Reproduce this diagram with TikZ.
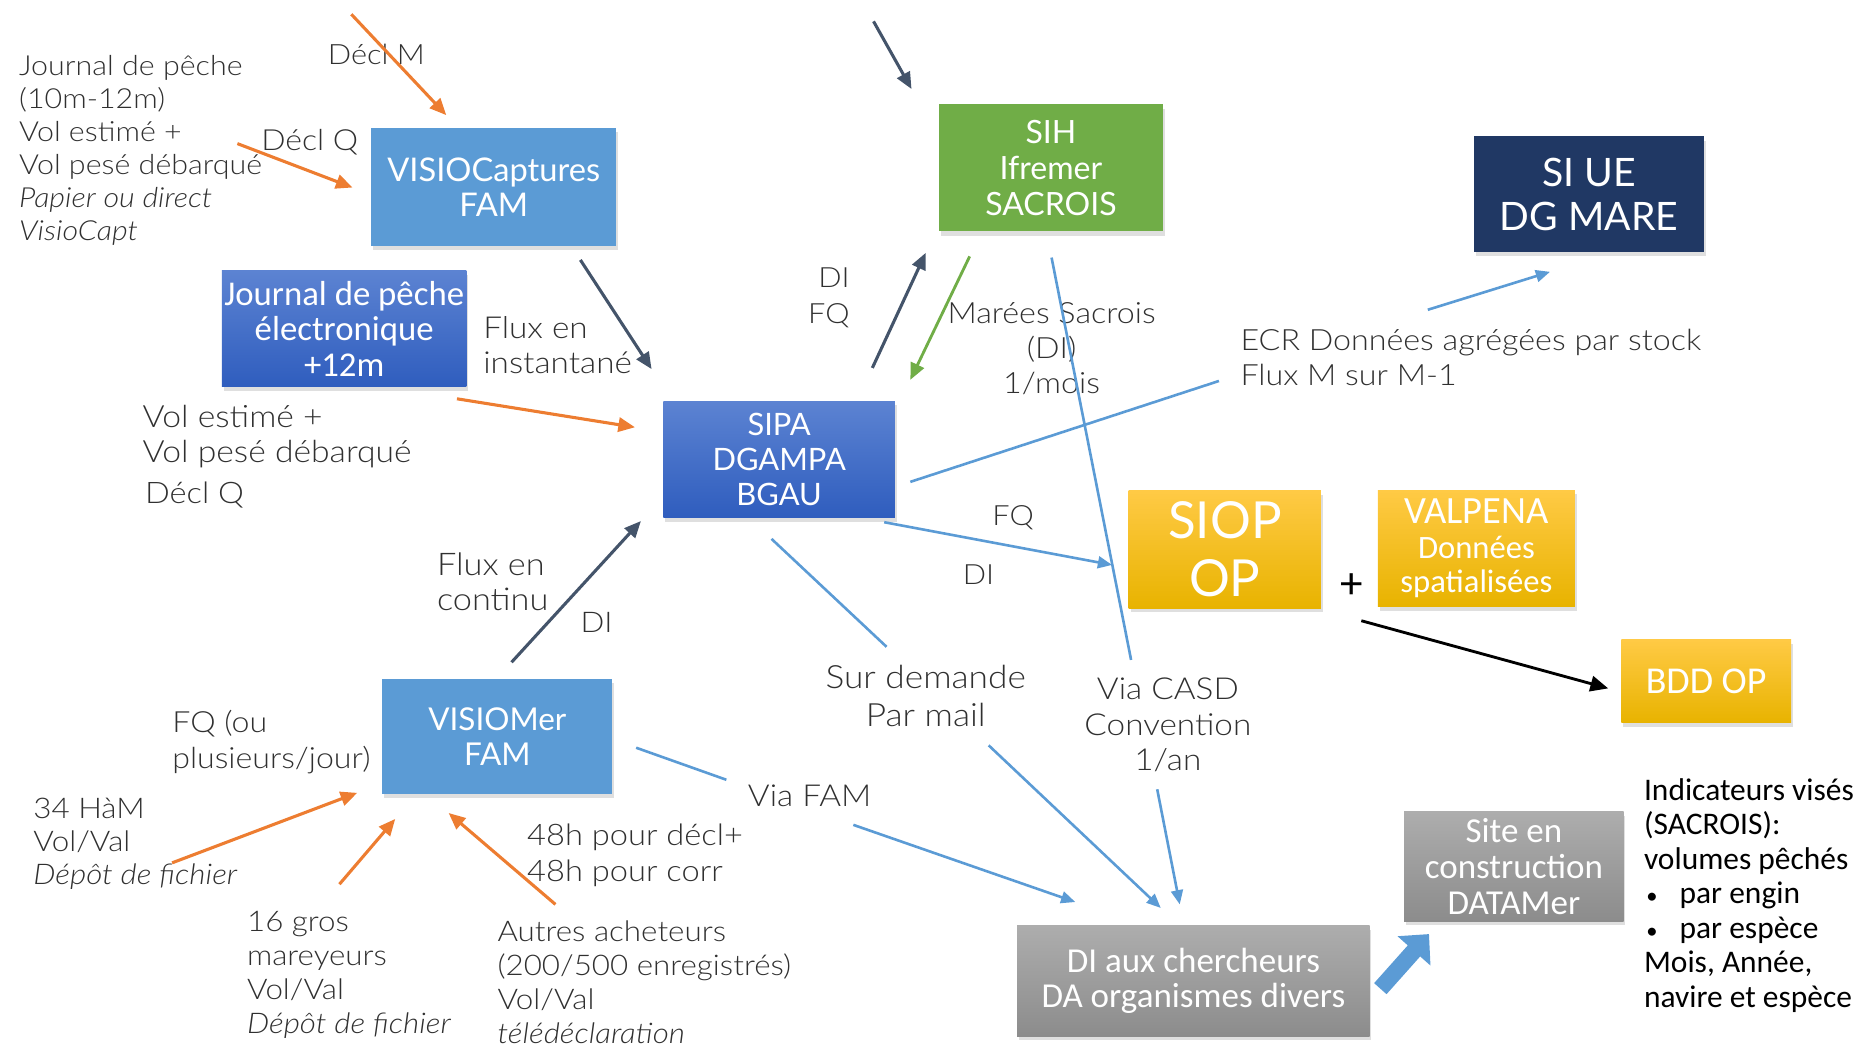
\documentclass[tikz,border=0pt]{standalone}
\usepackage{fontspec}
\setmainfont{Carlito}
\newfontfamily\thinf{Lato Light}[FakeStretch=1.1]
\newfontfamily\latof{Lato}
\usetikzlibrary{arrows.meta,shadows}
\definecolor{medblue}{HTML}{5B9BD5}
\definecolor{royaltop}{HTML}{5C83D2}
\definecolor{royalbot}{HTML}{2F5DBE}
\definecolor{sihgreen}{HTML}{70AD47}
\definecolor{navy}{HTML}{203864}
\definecolor{goldtop}{HTML}{FFCA45}
\definecolor{goldbot}{HTML}{E8B300}
\definecolor{graytop}{HTML}{ADADAD}
\definecolor{graybot}{HTML}{8C8C8C}
\definecolor{slate}{HTML}{44546A}
\definecolor{orng}{HTML}{ED7D31}
\definecolor{annot}{HTML}{303030}
\newcommand{\tf}[2]{\thinf\fontsize{#1}{#2}\selectfont}
\newcommand{\bul}{\makebox[30pt][l]{\hspace{2pt}{\fontsize{19}{19}\selectfont •}}}
\begin{document}
\begin{tikzpicture}[x=1pt,y=-1pt,
  box/.style={rectangle, inner sep=0pt, align=center, text=white,
    drop shadow={opacity=0.25, shadow xshift=1.5pt, shadow yshift=-3.5pt}},
  royal/.style={box, top color=royaltop, bottom color=royalbot},
  gold/.style={box, top color=goldtop, bottom color=goldbot},
  grayb/.style={box, top color=graytop, bottom color=graybot},
  ann/.style={font=\tf{24.5}{28}, text=annot, inner sep=0pt, align=left, anchor=base west},
  oarr/.style={orng, line width=2.6pt, -{Triangle[length=14pt,width=12pt]}},
  darr/.style={slate, line width=2.6pt, -{Triangle[length=14pt,width=12pt]}},
  garr/.style={sihgreen, line width=2.4pt, -{Triangle[length=14pt,width=12pt]}},
  bline/.style={medblue, line width=2.2pt},
  barr/.style={bline, -{Triangle[length=12pt,width=10pt]}},
]
\useasboundingbox (0,0) rectangle (1568,880);

% ---------- boxes ----------
\node[box, fill=medblue, minimum width=206pt, minimum height=99pt,
  font=\latof\fontsize{27.5}{29.5}\selectfont] (vcap) at (416,157.5) {VISIOCaptures\\FAM};
\node[royal, minimum width=206pt, minimum height=98pt,
  font=\fontsize{29.3}{30}\selectfont] (jpe) at (290,277) {Journal de pêche\\électronique\\+12m};
\node[royal, minimum width=195pt, minimum height=98pt,
  font=\latof\fontsize{26}{29.5}\selectfont] (sipa) at (656.5,387) {SIPA\\DGAMPA\\BGAU};
\node[box, fill=sihgreen, minimum width=189pt, minimum height=107pt,
  font=\latof\fontsize{27}{30}\selectfont] (sih) at (885.5,141.5) {SIH\\Ifremer\\SACROIS};
\node[box, fill=navy, minimum width=194pt, minimum height=97pt,
  font=\latof\fontsize{33}{37}\selectfont] (siue) at (1339,163.5) {SI UE\\DG MARE};
\node[gold, minimum width=162pt, minimum height=99pt,
  font=\latof\fontsize{43}{49}\selectfont] (siop) at (1032,463) {SIOP\\OP};
\node[gold, minimum width=166pt, minimum height=98pt,
  font=\fontsize{27.5}{29}\selectfont] (valp) at (1244,462) {{\fontsize{32.5}{30}\selectfont VALPENA}\\Données\\spatialisées};
\node[gold, minimum width=143pt, minimum height=70pt,
  font=\fontsize{32}{30}\selectfont] (bdd) at (1437.5,574) {BDD OP};
\node[box, fill=medblue, minimum width=194pt, minimum height=97pt,
  font=\latof\fontsize{26.5}{30}\selectfont] (vmer) at (419,620.5) {VISIOMer\\FAM};
\node[grayb, minimum width=297pt, minimum height=93pt,
  font=\fontsize{29.5}{30}\selectfont] (dibox) at (1005.5,826.5) {DI aux chercheurs\\DA organismes divers};
\node[grayb, minimum width=185pt, minimum height=92pt,
  font=\fontsize{29.5}{30.5}\selectfont] (site) at (1275.5,730) {Site en\\construction\\DATAMer};

% ---------- labels (anchor = baseline of last line) ----------
\node[ann, font=\tf{23.3}{27.8}] (jpl) at (16,203) {Journal de pêche\\(10m-12m)\\Vol estimé +\\Vol pesé débarqué\\\textit{Papier ou direct}\\\textit{VisioCapt}};
\node[ann, font=\tf{23.6}{28}] (declm) at (276,54.5) {Décl M};
\node[ann] (declq) at (220,126.5) {Décl Q};
\node[ann, font=\tf{25.5}{29}] (fluxi) at (407,314.5) {Flux en\\instantané};
\node[ann, font=\tf{25.8}{29}] (volest) at (120,389.5) {Vol estimé +\\Vol pesé débarqué};
\node[ann, font=\tf{25}{29}] (declq2) at (122,424.5) {Décl Q};
\node[ann, anchor=base east, align=right, font=\tf{23.5}{30}] (difq) at (716,272.5) {DI\\FQ};
\node[ann, anchor=base, align=center, font=\tf{24.7}{29.5}] (marees) at (886,331.5) {Marées Sacrois\\(DI)\\1/mois};
\node[ann, font=\tf{24.7}{29}] (ecr) at (1045,324.5) {ECR Données agrégées par stock\\Flux M sur M-1};
\node[ann, font=\tf{23.5}{28}] (fq1) at (836,442.5) {FQ};
\node[ann, font=\tf{23.5}{28}] (di1) at (811,492.5) {DI};
\node[ann, font=\tf{26.3}{30}] (fluxc) at (368,514.5) {Flux en\\continu};
\node[ann, font=\tf{24}{28}] (di2) at (489,532.5) {DI};
\node[ann, anchor=base, align=center, font=\tf{27}{32}] (surdem) at (780,612.5) {Sur demande\\Par mail};
\node[ann, anchor=base, align=center, font=\tf{25.5}{30}] (casd) at (984,649.5) {Via CASD\\Convention\\1/an};
\node[ann, font=\tf{25.5}{30}] (viafam) at (630,679.5) {Via FAM};
\node[ann, font=\tf{24.6}{30}] (fqou) at (145,647.5) {FQ (ou\\plusieurs/jour)};
\node[ann, font=\tf{24}{28}] (ham) at (28,745.5) {34 HàM\\Vol/Val\\\textit{Dépôt de fichier}};
\node[ann, font=\tf{24}{28.5}] (gros) at (208,870.5) {16 gros\\mareyeurs\\Vol/Val\\\textit{Dépôt de fichier}};
\node[ann, font=\tf{25}{30}] (h48) at (444,742.5) {48h pour décl+\\48h pour corr};
\node[ann, font=\tf{24}{28.7}] (autres) at (419,879) {Autres acheteurs\\(200/500 enregistrés)\\Vol/Val\\\textit{télédéclaration}};
\node[inner sep=0pt, font=\fontsize{38}{38}\selectfont] (plus) at (1139,494) {+};
\node[inner sep=0pt, anchor=base west, align=left, font=\fontsize{26.5}{29}\selectfont] (ind) at (1385,848.5)
  {Indicateurs visés\\(SACROIS):\\volumes pêchés\\\bul par engin\\\bul par espèce\\Mois, Année,\\navire et espèce};

% ---------- connector end points ----------
\coordinate (a1) at (296,12);   \coordinate (a2) at (376,97);
\coordinate (b1) at (200,121);  \coordinate (b2) at (297,158);
\coordinate (c1) at (489,219);  \coordinate (c2) at (549,311);
\coordinate (d1) at (385,336);  \coordinate (d2) at (535,360);
\coordinate (e1) at (736,18);   \coordinate (e2) at (768,75);
\coordinate (f1) at (735,310);  \coordinate (f2) at (780,213);
\coordinate (g1) at (817,216);  \coordinate (g2) at (767,320);
\coordinate (h1) at (886,217);  \coordinate (h2) at (953,556);
\coordinate (h3) at (975,665);  \coordinate (h4) at (994,762);
\coordinate (i1) at (767,406);  \coordinate (i2) at (1027,321);
\coordinate (i3) at (1203,261); \coordinate (i4) at (1306,229);
\coordinate (j1) at (745,440);  \coordinate (j2) at (937,476);
\coordinate (k1) at (650,454);  \coordinate (k2) at (747,545);
\coordinate (k3) at (833,628);  \coordinate (k4) at (978,765);
\coordinate (l1) at (431,558);  \coordinate (l2) at (540,439);
\coordinate (m1) at (536,630);  \coordinate (m2) at (612,657);
\coordinate (m3) at (719,695);  \coordinate (m4) at (906,760);
\coordinate (n1) at (1147,523); \coordinate (n2) at (1355,580);
\coordinate (o1) at (1163,833); \coordinate (o2) at (1204,787);
\coordinate (p1) at (145,727);  \coordinate (p2) at (301,668);
\coordinate (q1) at (286,745);  \coordinate (q2) at (333,690);
\coordinate (r1) at (468,762);  \coordinate (r2) at (378,685);

% ---------- connectors ----------
\draw[oarr] (a1) -- (a2);
\draw[oarr] (b1) -- (b2);
\draw[darr] (c1) -- (c2);
\draw[oarr] (d1) -- (d2);
\draw[darr] (e1) -- (e2);
\draw[darr] (f1) -- (f2);
\draw[garr] (g1) -- (g2);
\draw[bline] (h1) -- (h2);
\draw[barr] (h3) -- (h4);
\draw[bline] (i1) -- (i2);
\draw[barr] (i3) -- (i4);
\draw[barr] (j1) -- (j2);
\draw[bline] (k1) -- (k2);
\draw[barr] (k3) -- (k4);
\draw[darr] (l1) -- (l2);
\draw[bline] (m1) -- (m2);
\draw[barr] (m3) -- (m4);
\draw[black, line width=2.4pt, -{Triangle[length=15pt,width=13pt]}] (n1) -- (n2);
\draw[medblue, line width=14pt, -{Triangle[length=19pt,width=36pt]}] (o1) -- (o2);
\draw[oarr] (p1) -- (p2);
\draw[oarr] (q1) -- (q2);
\draw[oarr] (r1) -- (r2);
\end{tikzpicture}
\end{document}
